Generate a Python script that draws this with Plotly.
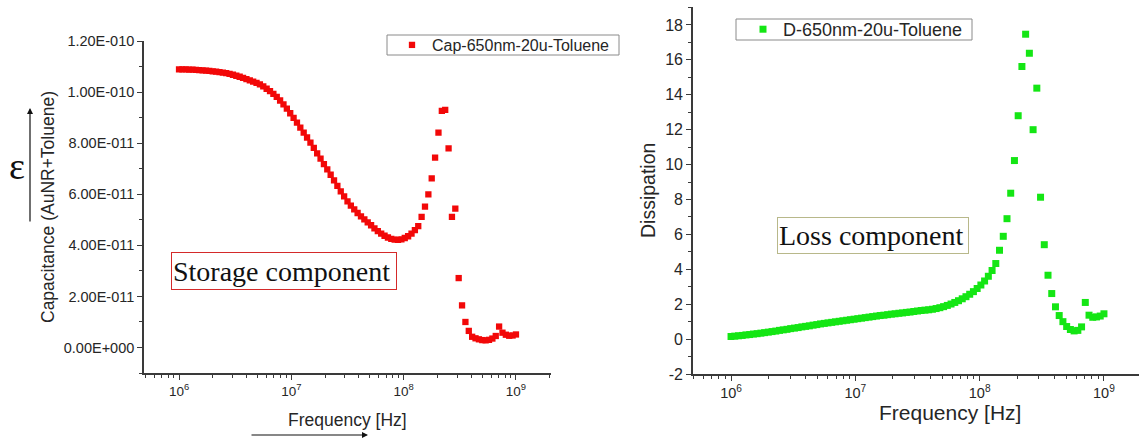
import plotly.graph_objects as go

# Frequency sweep (MHz), 101 log-spaced points from 1 MHz to 1 GHz
freq_mhz = [
    1.000, 1.072, 1.148, 1.230, 1.318, 1.413, 1.514, 1.622, 1.738, 1.862,
    1.995, 2.138, 2.291, 2.455, 2.630, 2.818, 3.020, 3.236, 3.467, 3.715,
    3.981, 4.266, 4.571, 4.898, 5.248, 5.623, 6.026, 6.457, 6.918, 7.413,
    7.943, 8.511, 9.120, 9.772,
    10.47, 11.22, 12.02, 12.88, 13.80, 14.79, 15.85, 16.98, 18.20, 19.50,
    20.89, 22.39, 23.99, 25.70, 27.54, 29.51, 31.62, 33.88, 36.31, 38.90,
    41.69, 44.67, 47.86, 51.29, 54.95, 58.88, 63.10, 67.61, 72.44, 77.62,
    83.18, 89.13, 95.50,
    102.3, 109.6, 117.5, 125.9, 134.9, 144.5, 154.9, 166.0, 177.8, 190.5,
    204.2, 218.8, 234.4, 251.2, 269.2, 288.4, 309.0, 331.1, 354.8, 380.2,
    407.4, 436.5, 467.7, 501.2, 537.0, 575.4, 616.6, 660.7, 707.9, 758.6,
    812.8, 871.0, 933.3,
    1000.0,
]

# Capacitance of AuNR + toluene (pF)
cap_pf = [
    109.0, 109.0, 109.0, 108.9, 108.9, 108.8, 108.7, 108.6, 108.5, 108.4,
    108.2, 108.1, 107.9, 107.7, 107.5, 107.2, 106.9, 106.5, 106.1, 105.7,
    105.2, 104.7, 104.2, 103.7, 103.1, 102.3, 101.4, 100.5, 99.4, 98.2,
    96.8, 95.3, 93.6, 91.8, 90.0, 88.1, 86.2, 84.2, 82.3, 80.3,
    78.2, 76.1, 74.0, 71.9, 69.8, 67.7, 65.5, 63.3, 61.2, 59.2,
    57.3, 55.6, 54.1, 52.7, 51.4, 50.2, 49.0, 47.9, 46.7, 45.6,
    44.6, 43.8, 43.1, 42.6, 42.3, 42.2, 42.4, 42.9, 43.6, 44.6,
    46.0, 47.6, 51.2, 55.2, 60.0, 66.3, 74.4, 84.2, 92.7, 93.1,
    78.0, 51.2, 54.4, 27.2, 16.5, 10.0, 6.5, 4.2, 3.6, 3.2,
    2.9, 2.8, 3.0, 3.5, 4.5, 8.2, 5.8, 5.0, 4.6, 4.7, 5.1,
]

# Dissipation factor
dissipation = [
    0.15, 0.17, 0.19, 0.21, 0.24, 0.26, 0.29, 0.31, 0.34, 0.37,
    0.40, 0.43, 0.46, 0.50, 0.53, 0.56, 0.60, 0.63, 0.66, 0.70,
    0.73, 0.76, 0.80, 0.83, 0.87, 0.90, 0.93, 0.96, 0.99, 1.02,
    1.05, 1.08, 1.11, 1.14, 1.17, 1.20, 1.23, 1.26, 1.29, 1.32,
    1.35, 1.37, 1.40, 1.43, 1.45, 1.48, 1.50, 1.53, 1.55, 1.58,
    1.61, 1.64, 1.66, 1.68, 1.71, 1.75, 1.80, 1.86, 1.93, 2.01,
    2.10, 2.20, 2.31, 2.43, 2.57, 2.72, 2.90, 3.10, 3.33, 3.60,
    3.93, 4.33, 5.09, 5.89, 6.90, 8.36, 10.23, 12.80, 15.62, 17.47,
    16.38, 12.00, 14.38, 8.13, 5.41, 3.66, 2.61, 1.85, 1.35, 1.00,
    0.72, 0.55, 0.47, 0.50, 0.70, 2.10, 1.37, 1.25, 1.27, 1.32, 1.45,
]

cap_tickvals = [0, 2e-11, 4e-11, 6e-11, 8e-11, 1e-10, 1.2e-10]
cap_ticktext = ["0.00E+000", "2.00E-011", "4.00E-011", "6.00E-011",
                "8.00E-011", "1.00E-010", "1.20E-010"]
cap_minor = [-1e-11, 1e-11, 3e-11, 5e-11, 7e-11, 9e-11, 1.1e-10]
diss_tickvals = [-2, 0, 2, 4, 6, 8, 10, 12, 14, 16, 18]
diss_minor = [-1, 1, 3, 5, 7, 9, 11, 13, 15, 17, 19]
freq_tickvals = [1e6, 1e7, 1e8, 1e9]
freq_ticktext = ["10<sup>6</sup>", "10<sup>7</sup>", "10<sup>8</sup>", "10<sup>9</sup>"]
freq_minor = [m * 10 ** e for e in range(5, 10) for m in range(2, 10)]

freq_hz = [f * 1e6 for f in freq_mhz]
cap_farad = [c * 1e-12 for c in cap_pf]

W, H = 1139, 443


def px(x):
    return x / W


def py(y):
    return 1 - y / H


SANS = "Liberation Sans, Arial, sans-serif"
SERIF = "Liberation Serif, Times New Roman, serif"
AXIS_COLOR = "#3a3a3a"
TEXT_COLOR = "#262626"
RED = "#f20808"
GREEN = "#14e614"

fig = go.Figure()
fig.add_trace(go.Scatter(
    x=freq_hz, y=cap_farad, mode="markers", name="Cap-650nm-20u-Toluene",
    marker=dict(symbol="square", size=6.3, color=RED),
    xaxis="x", yaxis="y", legend="legend",
))
fig.add_trace(go.Scatter(
    x=freq_hz, y=dissipation, mode="markers", name="D-650nm-20u-Toluene",
    marker=dict(symbol="square", size=7, color=GREEN),
    xaxis="x2", yaxis="y2", legend="legend2",
))


def axis_style(tickfont_size):
    return dict(
        showline=True, linecolor=AXIS_COLOR, linewidth=1.6,
        ticks="outside", ticklen=5, tickwidth=1.3, tickcolor=AXIS_COLOR,
        showgrid=False, zeroline=False, automargin=False,
        tickfont=dict(family=SANS, size=tickfont_size, color=TEXT_COLOR),
    )


fig.update_layout(
    width=W, height=H,
    margin=dict(l=0, r=0, t=0, b=0, autoexpand=False),
    paper_bgcolor="white", plot_bgcolor="white",
    xaxis=dict(
        axis_style(13.5), domain=[px(144), px(551)], anchor="y",
        type="log", range=[5.688, 9.312],
        tickmode="array", tickvals=freq_tickvals, ticktext=freq_ticktext,
        minor=dict(tickvals=freq_minor, ticks="outside", ticklen=3,
                   tickwidth=1, tickcolor=AXIS_COLOR),
    ),
    yaxis=dict(
        axis_style(14.5), domain=[py(373), py(41.3)], anchor="x",
        range=[-1e-11, 1.2e-10],
        tickmode="array", tickvals=cap_tickvals, ticktext=cap_ticktext,
        minor=dict(tickvals=cap_minor, ticks="outside", ticklen=3,
                   tickwidth=1, tickcolor=AXIS_COLOR),
    ),
    xaxis2=dict(
        axis_style(14.5), domain=[px(693), 1.0], anchor="y2",
        type="log", range=[5.694, 9.282],
        tickmode="array", tickvals=freq_tickvals, ticktext=freq_ticktext,
        minor=dict(tickvals=freq_minor, ticks="outside", ticklen=3,
                   tickwidth=1, tickcolor=AXIS_COLOR),
    ),
    yaxis2=dict(
        axis_style(16), domain=[py(374), py(7)], anchor="x2",
        range=[-2, 19.03],
        tickmode="array", tickvals=diss_tickvals,
        ticktext=[str(v) for v in diss_tickvals],
        minor=dict(tickvals=diss_minor, ticks="outside", ticklen=3,
                   tickwidth=1, tickcolor=AXIS_COLOR),
    ),
    legend=dict(
        x=px(392), y=py(45), xanchor="left", yanchor="middle",
        bgcolor="rgba(0,0,0,0)", borderwidth=0,
        font=dict(family=SANS, size=16, color=TEXT_COLOR),
    ),
    legend2=dict(
        x=px(743), y=py(29.5), xanchor="left", yanchor="middle",
        bgcolor="rgba(0,0,0,0)", borderwidth=0,
        font=dict(family=SANS, size=18, color=TEXT_COLOR),
    ),
    showlegend=True,
)

# Legend frames
fig.add_shape(type="rect", xref="paper", yref="paper",
              x0=px(387), x1=px(619), y0=py(55), y1=py(35),
              line=dict(color="#8a8a8a", width=1))
fig.add_shape(type="rect", xref="paper", yref="paper",
              x0=px(736), x1=px(972), y0=py(40), y1=py(19),
              line=dict(color="#8a8a8a", width=1))

annotations = [
    # axis titles
    dict(text="Capacitance (AuNR+Toluene)", x=px(48), y=py(207), textangle=-90,
         font=dict(family=SANS, size=17.5, color=TEXT_COLOR)),
    dict(text="Frequency [Hz]", x=px(347.5), y=py(420),
         font=dict(family=SANS, size=17.5, color=TEXT_COLOR)),
    dict(text="Dissipation", x=px(648), y=py(191), textangle=-90,
         font=dict(family=SANS, size=19.5, color=TEXT_COLOR)),
    dict(text="Frequency [Hz]", x=px(950), y=py(412),
         font=dict(family=SANS, size=21, color=TEXT_COLOR)),
    # permittivity symbol
    dict(text="ε", x=px(17), y=py(166),
         font=dict(family=SERIF, size=38, color="#111111")),
    # component labels
    dict(text="Storage component", x=px(171), y=py(271), xanchor="left",
         width=222, height=34, align="left", borderpad=1,
         bordercolor="#d42a2a", borderwidth=1,
         font=dict(family=SERIF, size=28, color="#111111")),
    dict(text="Loss component", x=px(777), y=py(235.8), xanchor="left",
         width=188, height=33, align="left", borderpad=1,
         bordercolor="#b8b88a", borderwidth=1,
         font=dict(family=SERIF, size=28, color="#111111")),
]
for a in annotations:
    a.setdefault("xref", "paper")
    a.setdefault("yref", "paper")
    a.setdefault("showarrow", False)
    a.setdefault("xanchor", "center")
    a.setdefault("yanchor", "middle")
    fig.add_annotation(**a)

# Direction arrows next to the permittivity symbol and the frequency title
fig.add_annotation(x=px(30), y=py(108), xref="paper", yref="paper",
                   ax=0, ay=115, axref="pixel", ayref="pixel",
                   text="", showarrow=True, arrowhead=2, arrowsize=1,
                   arrowwidth=1.2, arrowcolor="#111111")
fig.add_annotation(x=px(368), y=py(435), xref="paper", yref="paper",
                   ax=-118, ay=0, axref="pixel", ayref="pixel",
                   text="", showarrow=True, arrowhead=2, arrowsize=1,
                   arrowwidth=1.2, arrowcolor="#111111")

fig.write_html("out.html")
